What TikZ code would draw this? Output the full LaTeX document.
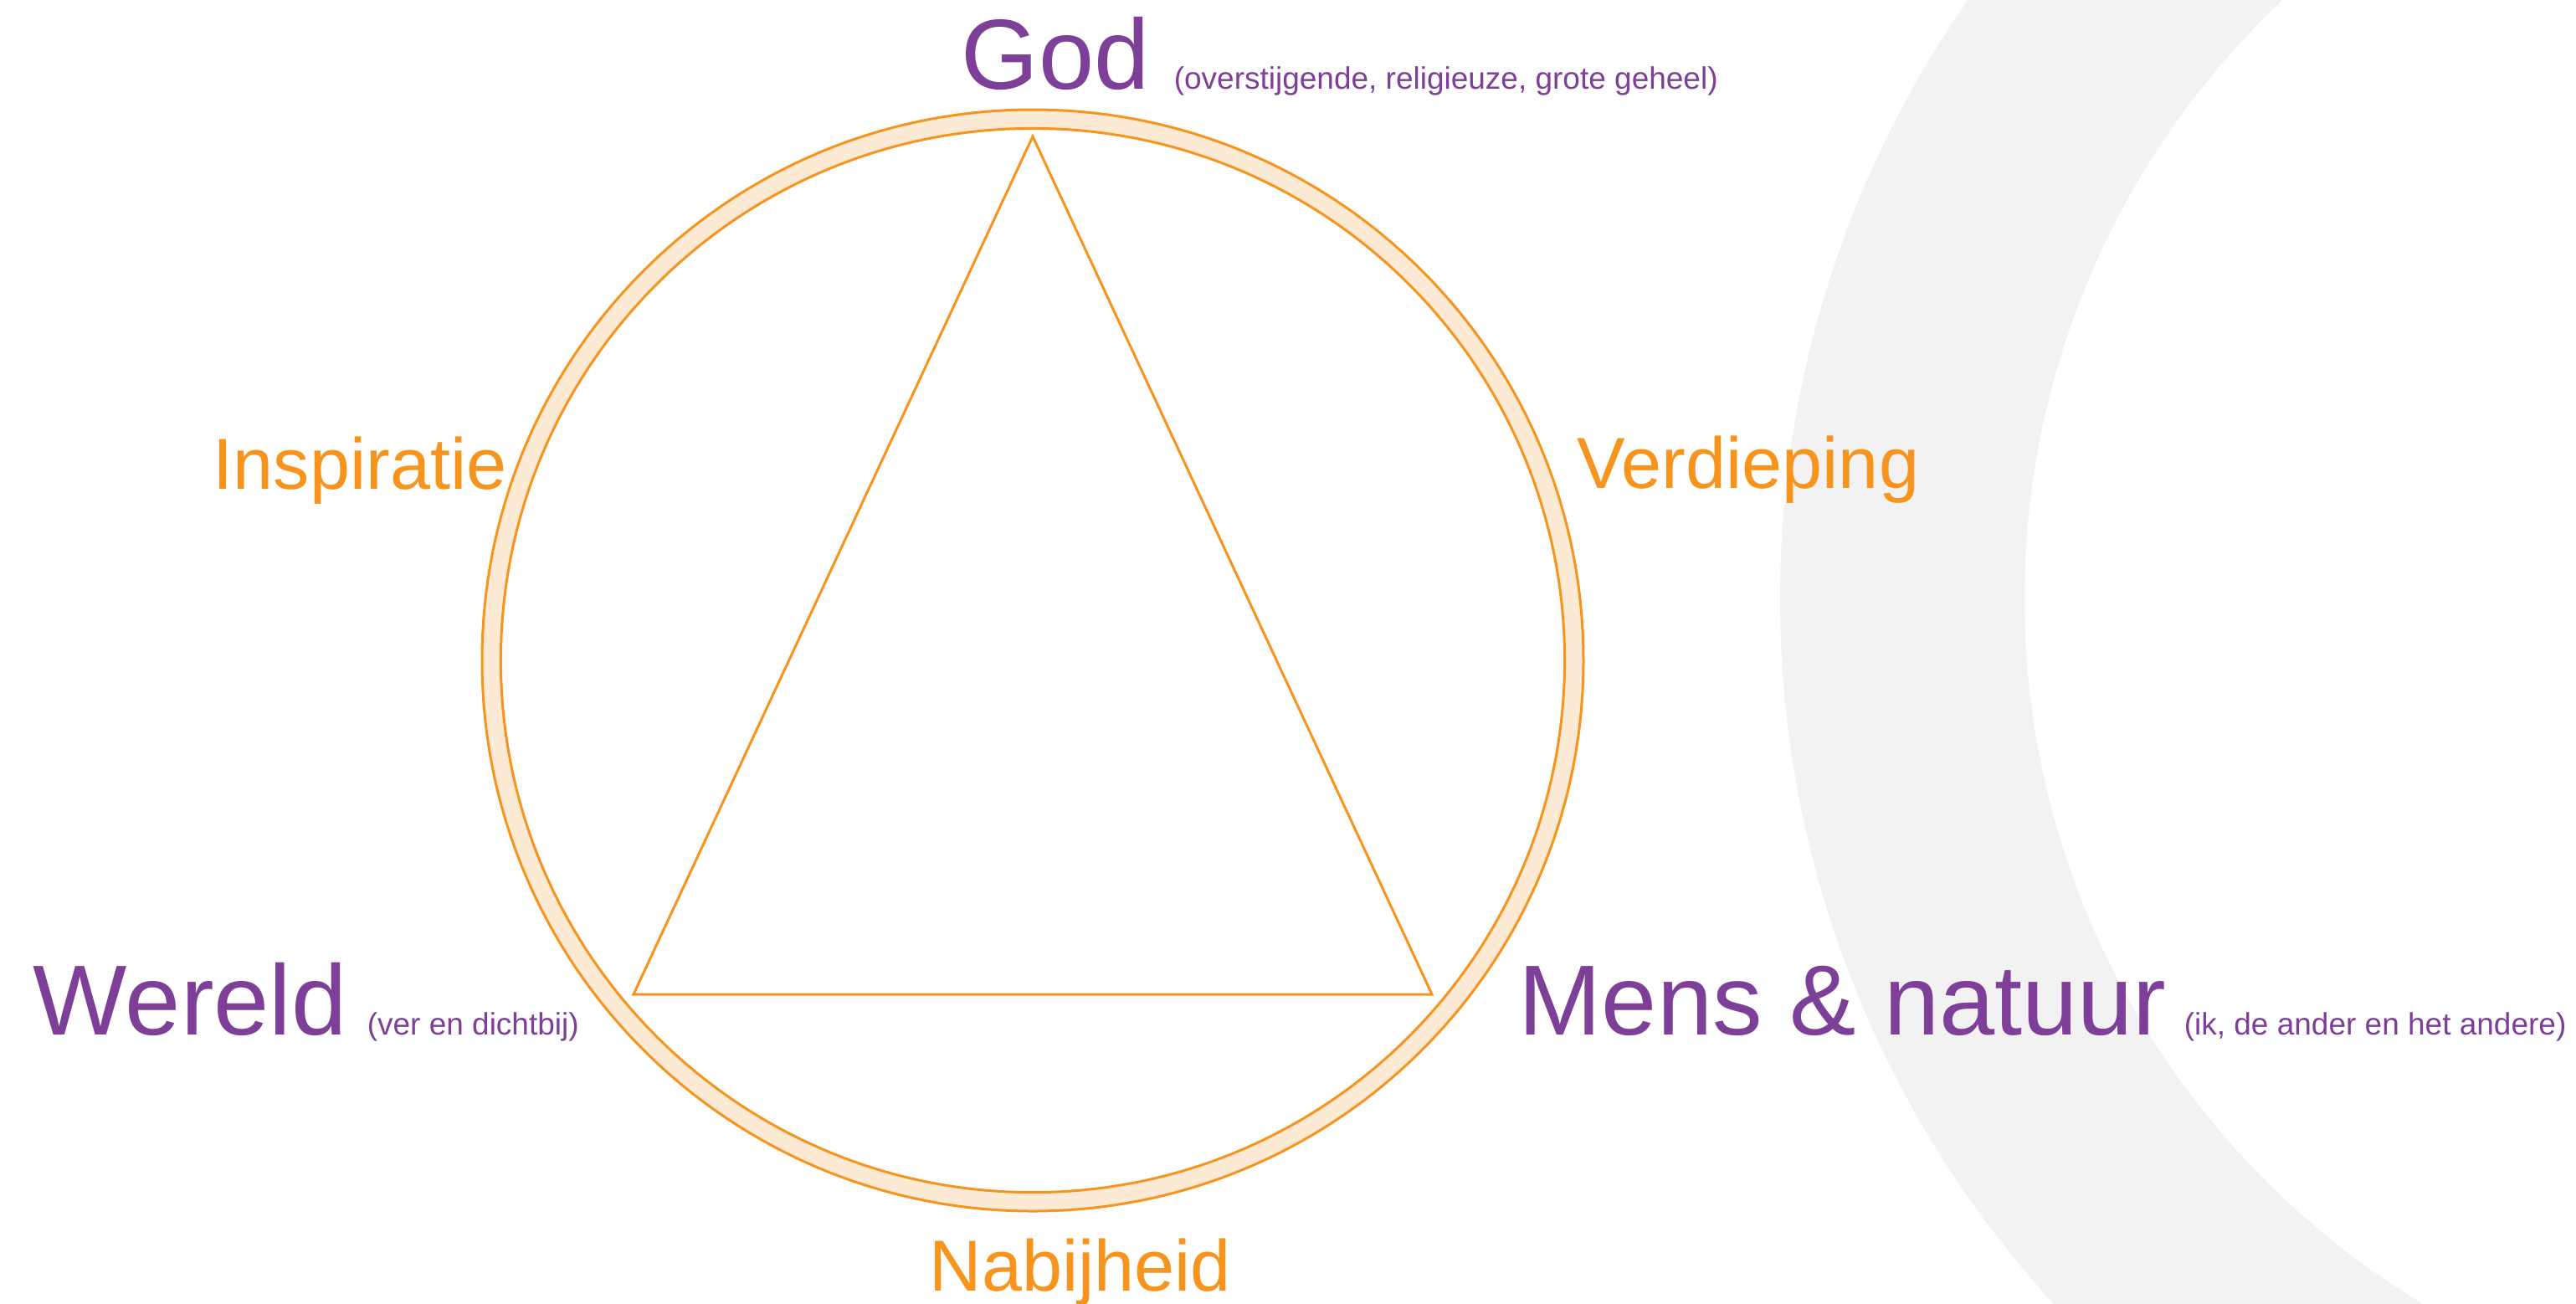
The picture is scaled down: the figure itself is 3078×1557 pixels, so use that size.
\documentclass[tikz,border=0pt]{standalone}
\usepackage{fontspec}
\setmainfont{Liberation Sans}
\definecolor{lilac}{RGB}{125,63,152}
\definecolor{orng}{RGB}{247,148,30}
\definecolor{peach}{RGB}{253,234,212}
\definecolor{ringgray}{RGB}{242,242,242}
\tikzset{
  bigpurple/.style={anchor=base west, inner sep=0pt, text=lilac, font=\fontsize{29.75pt}{32pt}\selectfont},
  smallpurple/.style={anchor=base west, inner sep=0pt, text=lilac, font=\fontsize{9.25pt}{11pt}\selectfont},
  orangelabel/.style={anchor=base west, inner sep=0pt, text=orng, font=\fontsize{21.6pt}{24pt}\selectfont},
  orangeline/.style={draw=orng, line width=0.75pt, line join=miter},
}
\begin{document}
\begin{tikzpicture}[x=0.25pt, y=-0.25pt]
\useasboundingbox (0,0) rectangle (3078,1557);
\fill[white] (0,0) rectangle (3078,1557);
% background grey ring
\begin{scope}
  \clip (0,0) rectangle (3078,1557);
  \fill[ringgray, even odd rule] (3377,715) circle[radius=312.5pt] (3403,715) circle[radius=246pt];
\end{scope}
% circle band
\coordinate (c) at (1234,789);
\fill[peach, even odd rule] (c) circle[radius=164.5pt] (c) circle[radius=158.9pt];
\draw[orangeline] (c) circle[radius=164.5pt];
\draw[orangeline] (c) circle[radius=158.9pt];
% triangle
\coordinate (top) at (1234,163);
\coordinate (bl) at (757,1188);
\coordinate (br) at (1711,1188);
\draw[orangeline] (top) -- (bl) -- (br) -- cycle;
% labels
\node[bigpurple] (god) at (1148,106) {God};
\node[smallpurple] (godsub) at (1402,106) {(overstijgende, religieuze, grote geheel)};
\node[bigpurple] (wereld) at (39,1236) {Wereld};
\node[smallpurple] (wereldsub) at (438,1236) {(ver en dichtbij)};
\node[bigpurple] (mens) at (1814,1236) {Mens \& natuur};
\node[smallpurple] (menssub) at (2609,1236) {(ik, de ander en het andere)};
\node[orangelabel] (insp) at (254,584) {Inspiratie};
\node[orangelabel] (verd) at (1884,583) {Verdieping};
\node[orangelabel] (nabij) at (1110,1542) {Nabijheid};
\end{tikzpicture}
\end{document}
